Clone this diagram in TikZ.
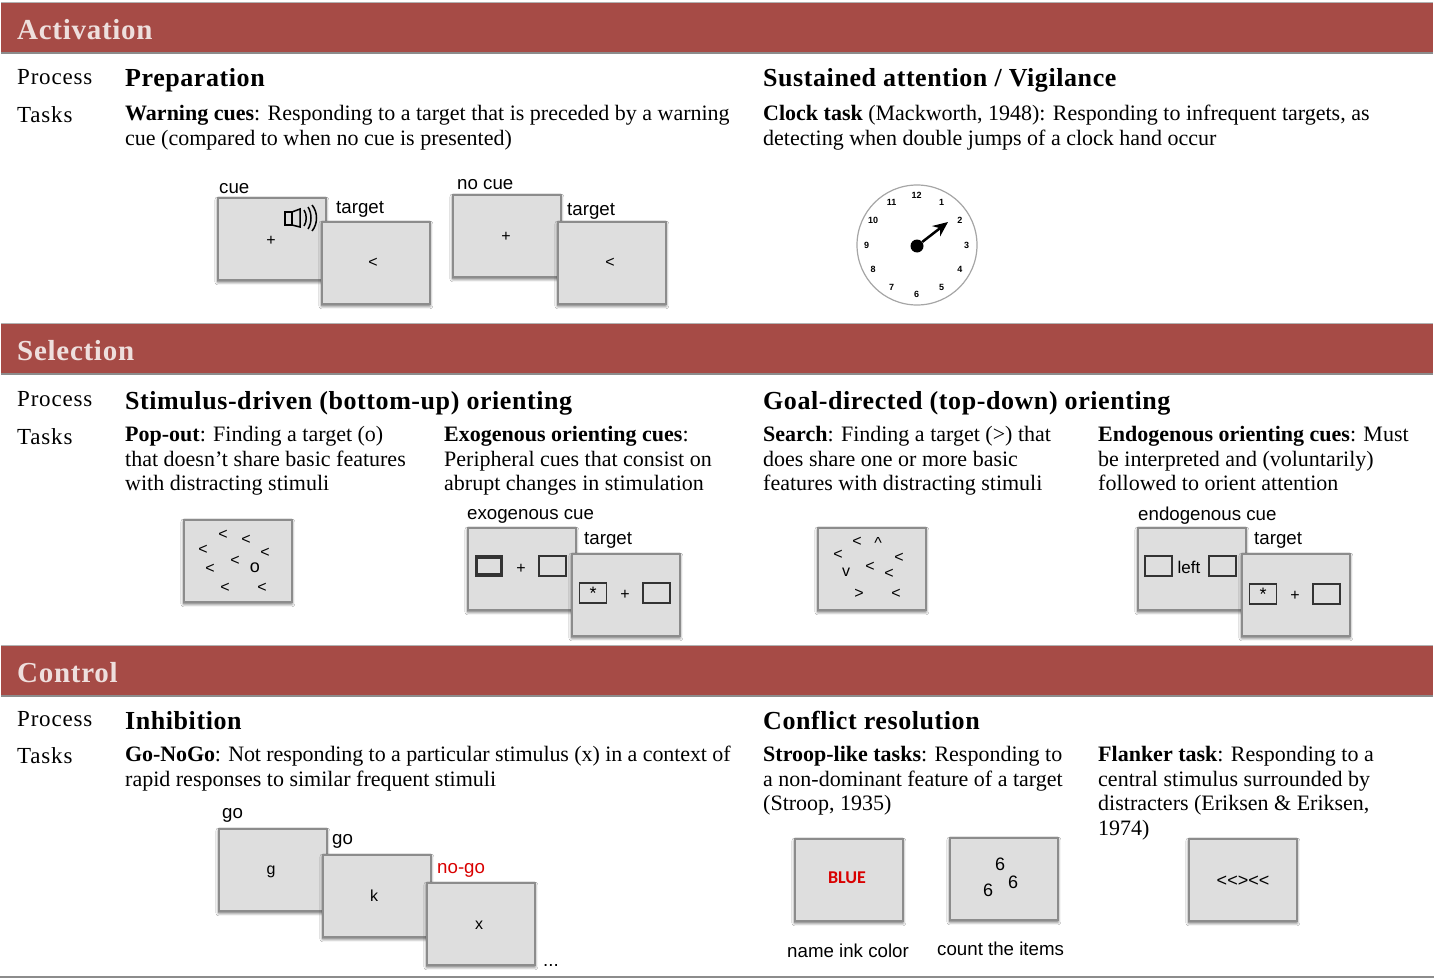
\documentclass[tikz,border=0pt]{standalone}
\usepackage{fontspec}
\setmainfont{Liberation Serif}
\setsansfont{Liberation Sans}
\newfontfamily\inkfont{Carlito}
\usetikzlibrary{arrows.meta,shadows.blur}
\definecolor{bandred}{HTML}{A64B46}
\definecolor{bandtext}{HTML}{EEDFDD}
\definecolor{screengray}{HTML}{DEDEDE}
\definecolor{screenline}{HTML}{8C8C8C}
\definecolor{markline}{HTML}{333333}
\tikzset{
  band/.style={fill=bandred,text=bandtext,anchor=north west,inner xsep=16pt,inner ysep=0pt,
    minimum height=50.5pt,text width=1400pt,align=left,text height=24.5pt,text depth=0pt,
    font=\bfseries\fontsize{29}{30}\selectfont\addfontfeature{LetterSpace=2.5}},
  bandline/.style={draw=black!45,line width=1.5pt},
  bandedge/.style={draw=black!30,line width=0.8pt},
  sidelabel/.style={anchor=base west,inner sep=0pt,font=\fontsize{23}{25}\selectfont\addfontfeature{LetterSpace=3.5}},
  heading/.style={anchor=base west,inner sep=0pt,font=\bfseries\fontsize{26}{28}\selectfont\addfontfeature{LetterSpace=2.2}},
  bodytext/.style={anchor=north west,inner sep=0pt,align=left,font=\fontsize{22}{24.7}\selectfont},
  screen/.style={draw=screenline,fill=screengray,line width=1.7pt,anchor=north west,inner sep=0pt,
    minimum width=108pt,minimum height=82pt,
    blur shadow={shadow xshift=0pt,shadow yshift=-2pt,shadow blur radius=3pt,shadow blur steps=8,shadow opacity=65}},
  caption/.style={anchor=base west,inner sep=0pt,font=\sffamily\fontsize{18.7}{20}\selectfont},
  glyph/.style={inner sep=0pt,yshift=-1.5pt,font=\sffamily\fontsize{16}{17}\selectfont},
  bigglyph/.style={inner sep=0pt,font=\sffamily\fontsize{18}{19}\selectfont},
  slot/.style={draw=markline,line width=1.5pt,inner sep=0pt,minimum width=27pt,minimum height=20pt,
    font=\sffamily\fontsize{18}{19}\selectfont},
  clocknum/.style={inner sep=0pt,font=\sffamily\bfseries\fontsize{9}{10}\selectfont}
}
% section rows
\newcommand\sectionrow[7]{%
  \node[band] (#1) at (1,#2) {#3};
  \draw[bandline] (#1.south west) -- (#1.south east);
  \draw[bandedge] (#1.north west) -- (#1.north east);
  \node[sidelabel] (#1process) at (17,#4) {Process};
  \node[sidelabel] (#1tasks) at (17,#5) {Tasks};
  \node[heading] (#1left) at (125,#6) {#7};
}
\begin{document}
\begin{tikzpicture}[x=1pt,y=-1pt]
  \useasboundingbox[fill=white] (0,0) rectangle (1434,979);

  % Activation
  \sectionrow{activation}{2}{Activation}{85}{122}{87}{Preparation}
  \node[heading] (sustained) at (763,87) {Sustained attention / Vigilance};
  \node[bodytext] (warning) at (125,105) {\textbf{Warning cues}: Responding to a target that is preceded by a warning\\
    cue (compared to when no cue is presented)};
  \node[bodytext] (clocktask) at (763,105) {\textbf{Clock task} (Mackworth, 1948): Responding to infrequent targets, as\\
    detecting when double jumps of a clock hand occur};

  \node[caption] (cuelabel) at (219,193) {cue};
  \node[screen] (cuebox) at (217,197) {};
  \node[glyph] (cueplus) at (271,239) {+};
  \draw[line width=1.5pt] (285,212) rectangle (292,225);
  \draw[line width=1.5pt] (292,212) -- (300,209) -- (300,227) -- (292,225);
  \draw[line width=1.5pt] (304,210) .. controls (307,214) and (307,222) .. (304,226);
  \draw[line width=1.5pt] (308,207) .. controls (312,213) and (312,223) .. (308,229);
  \draw[line width=1.5pt] (312,205) .. controls (318,212) and (318,224) .. (312,231);
  \node[caption] (targetlabela) at (336,213) {target};
  \node[screen] (targetboxa) at (321,221) {};
  \node[glyph] (targetarrowa) at (373,261) {<};

  \node[caption] (nocuelabel) at (457,189) {no cue};
  \node[screen] (nocuebox) at (452,194) {};
  \node[glyph] (nocueplus) at (506,235) {+};
  \node[caption] (targetlabelb) at (567,215) {target};
  \node[screen] (targetboxb) at (557,221) {};
  \node[glyph] (targetarrowb) at (610,261) {<};

  % The clock
  \node[draw=black!35,line width=1.2pt,circle,minimum size=120pt,inner sep=0pt] (clockface) at (917,245) {};
  \foreach \hour in {1,...,12} {
    \node[clocknum] (hour\hour) at ({916.5+50*sin(30*\hour)},{245-49.5*cos(30*\hour)}) {\hour};
  }
  \node[circle,fill=black,minimum size=13pt,inner sep=0pt] (hub) at (917,246) {};
  \coordinate (handtip) at (948,222);
  \draw[line width=2.5pt,-{Stealth[length=15pt,width=13pt]}] (hub) -- (handtip);

  % Selection
  \sectionrow{selection}{323}{Selection}{406}{444}{409}{Stimulus-driven (bottom-up) orienting}
  \node[heading] (goaldirected) at (763,409) {Goal-directed (top-down) orienting};
  \node[bodytext] (popout) at (125,426) {\textbf{Pop-out}: Finding a target (o)\\
    that doesn’t share basic features\\ with distracting stimuli};
  \node[bodytext] (exogenous) at (444,426) {\textbf{Exogenous orienting cues}:\\
    Peripheral cues that consist on\\ abrupt changes in stimulation};
  \node[bodytext] (search) at (763,426) {\textbf{Search}: Finding a target (>) that\\
    does share one or more basic\\ features with distracting stimuli};
  \node[bodytext] (endogenous) at (1098,426) {\textbf{Endogenous orienting cues}: Must\\
    be interpreted and (voluntarily)\\ followed to orient attention};

  \node[screen] (popoutbox) at (183,519) {};
  \foreach \px/\py [count=\n] in {223/533,246/538,203/548,265/551,235/559,210/567,225/586,262/586} {
    \node[glyph] (popglyph\n) at (\px,\py) {<};
  }
  \node[bigglyph] (popoutitem) at (255,568) {o};

  \node[caption] (exolabel) at (467,519) {exogenous cue};
  \node[screen] (exobox) at (467,527) {};
  \node[slot,line width=3.5pt,minimum width=25pt,minimum height=18pt] (exoleft) at (489,566) {};
  \node[glyph] (exoplus) at (521,567) {+};
  \node[slot] (exoright) at (552.5,566) {};
  \node[caption] (targetlabelc) at (584,544) {target};
  \node[screen] (targetboxc) at (571,553) {};
  \node[slot] (exostar) at (593,593) {*};
  \node[glyph] (targetplusc) at (625,593) {+};
  \node[slot] (targetslotc) at (656.5,593) {};

  \node[screen] (searchbox) at (817,527) {};
  \foreach \px/\py/\mark [count=\n] in {857/540/<,878/541/\^{},838/553/<,899/556/<,870/565/<,846/571/v,889/572/<,859/592/>,896/592/<} {
    \node[glyph] (searchglyph\n) at (\px,\py) {\mark};
  }

  \node[caption] (endolabel) at (1138,520) {endogenous cue};
  \node[screen] (endobox) at (1137,527) {};
  \node[slot] (endoleft) at (1158.5,566) {};
  \node[inner sep=0pt,font=\sffamily\fontsize{17}{18}\selectfont] (endoword) at (1189,567) {left};
  \node[slot] (endoright) at (1222.5,566) {};
  \node[caption] (targetlabeld) at (1254,544) {target};
  \node[screen] (targetboxd) at (1241,553) {};
  \node[slot] (endostar) at (1263,594) {*};
  \node[glyph] (targetplusd) at (1295,594) {+};
  \node[slot] (targetslotd) at (1326.5,594) {};

  % Control
  \sectionrow{control}{645}{Control}{726}{763}{729}{Inhibition}
  \node[heading] (conflict) at (763,729) {Conflict resolution};
  \node[bodytext] (gonogo) at (125,746) {\addfontfeature{LetterSpace=-0.45}\textbf{Go-NoGo}: Not responding to a particular stimulus (x) in a context of\\
    rapid responses to similar frequent stimuli};
  \node[bodytext] (stroop) at (763,746) {\textbf{Stroop-like tasks}: Responding to\\
    a non-dominant feature of a target\\ (Stroop, 1935)};
  \node[bodytext] (flanker) at (1098,746) {\textbf{Flanker task}: Responding to a\\
    central stimulus surrounded by\\ distracters (Eriksen \& Eriksen,\\ 1974)};

  \node[caption] (golabela) at (222,818) {go};
  \node[screen] (goboxa) at (218,828) {};
  \node[glyph] (goletter) at (271,870) {g};
  \node[caption] (golabelb) at (332,844) {go};
  \node[screen] (goboxb) at (322,854) {};
  \node[glyph] (kletter) at (374,894) {k};
  \node[caption,text=red!85!black] (nogolabel) at (437,873) {no-go};
  \node[screen] (nogobox) at (426,882) {};
  \node[glyph] (xletter) at (479,924) {x};
  \node[caption] (moredots) at (543,966) {...};

  \node[screen] (stroopbox) at (794,838) {};
  \node[inner sep=0pt,text=red!85!black,font=\inkfont\bfseries\fontsize{18}{19}\selectfont] (blueword) at (847,878) {BLUE};
  \node[caption] (inklabel) at (787,957) {name ink color};
  \node[screen] (countbox) at (949,837) {};
  \node[bigglyph] (sixa) at (1000,864) {6};
  \node[bigglyph] (sixb) at (988,890) {6};
  \node[bigglyph] (sixc) at (1013,882) {6};
  \node[caption] (countlabel) at (937,955) {count the items};
  \node[screen] (flankerbox) at (1188,838) {};
  \node[bigglyph] (flankerword) at (1243,881) {{<}{<}{>}{<}{<}};

  % Bottom rule
  \coordinate (ruleleft) at (0,977);
  \coordinate (ruleright) at (1434,977);
  \draw[bandline] (ruleleft) -- (ruleright);
\end{tikzpicture}
\end{document}
